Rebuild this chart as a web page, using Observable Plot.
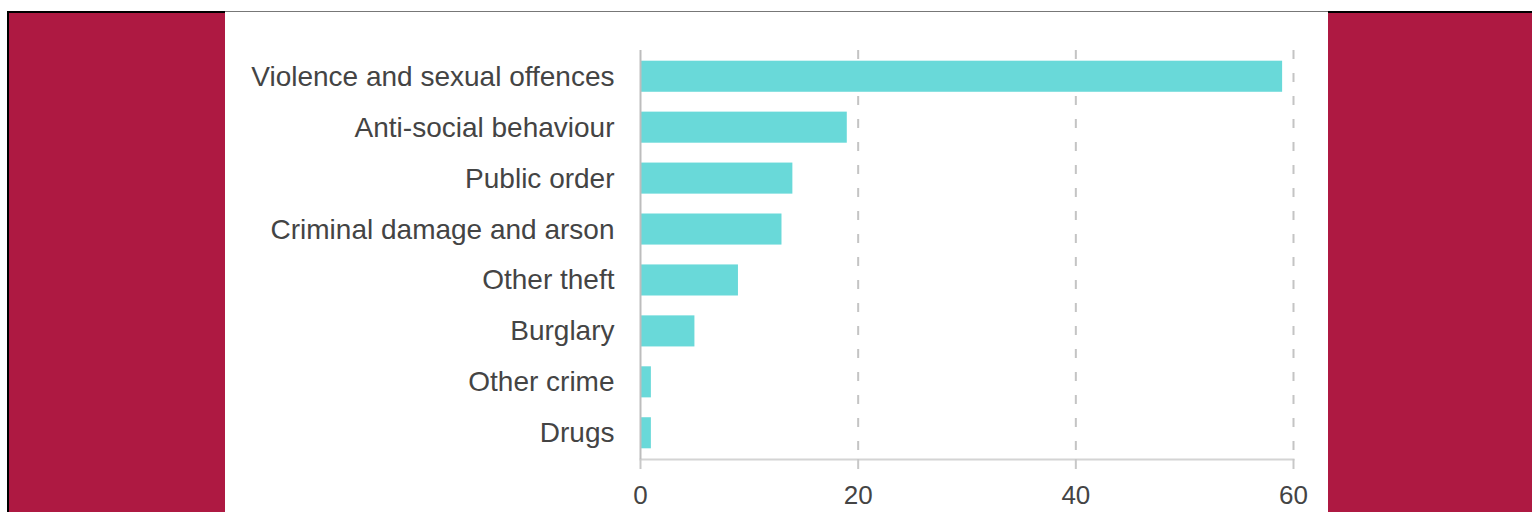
<!DOCTYPE html>
<html>
<head>
<meta charset="utf-8">
<script src="https://cdn.jsdelivr.net/npm/d3@7"></script>
<script src="https://cdn.jsdelivr.net/npm/@observablehq/plot@0.6"></script>
<style>
  html, body { margin: 0; padding: 0; background: #ffffff; }
  body { width: 1532px; height: 512px; position: relative; overflow: hidden; font-family: "Liberation Sans", Arial, sans-serif; }
  #topline { position: absolute; left: 7px; top: 11px; width: 1525px; height: 1px; background: #777777; }
  .panel { position: absolute; top: 11px; height: 501px; background: #ae1942; border-top: 2px solid #000; box-sizing: border-box; }
  #left { left: 7px; width: 218px; border-left: 2px solid #000; }
  #right { left: 1328px; width: 204px; }
  #chart { position: absolute; left: 225px; top: 12px; width: 1103px; height: 500px; }
</style>
</head>
<body>
<div id="topline"></div>
<div class="panel" id="left"></div>
<div class="panel" id="right"></div>
<div id="chart"></div>
<script>
const categories = [
  "Violence and sexual offences",
  "Anti-social behaviour",
  "Public order",
  "Criminal damage and arson",
  "Other theft",
  "Burglary",
  "Other crime",
  "Drugs"
];
const counts = [59, 19, 14, 13, 9, 5, 1, 1];
const xTicks = [0, 20, 40, 60];
const gridTicks = [20, 40, 60];

const data = categories.map((c, i) => ({category: c, value: counts[i]}));

const chart = Plot.plot({
  width: 1103,
  height: 500,
  marginLeft: 415,
  marginRight: 35,
  marginTop: 38,
  marginBottom: 53,
  style: {fontFamily: "'Liberation Sans', Arial, sans-serif", background: "transparent", color: "#444"},
  x: {domain: [0, 60], label: null},
  y: {domain: categories, paddingInner: 0.39, paddingOuter: 0.21, round: false, label: null},
  marks: [
    Plot.gridX(gridTicks, {stroke: "#c4c4c4", strokeOpacity: 1, strokeWidth: 2, strokeDasharray: "9,14"}),
    Plot.frame({anchor: "bottom", stroke: "#d4d4d4", strokeWidth: 2}),
    Plot.barX(data, {x: "value", y: "category", fill: "#69d9d9"}),
    Plot.ruleX([0], {stroke: "#bdbdbd", strokeWidth: 2}),
    Plot.axisX(xTicks, {tickSize: 10, tickPadding: 16, stroke: "#c8c8c8", strokeWidth: 2, fill: "#444", fontSize: 26, label: null}),
    Plot.axisY({tickSize: 0, tickPadding: 26, fill: "#444", fontSize: 28, label: null})
  ]
});
document.getElementById("chart").appendChild(chart);
</script>
</body>
</html>
